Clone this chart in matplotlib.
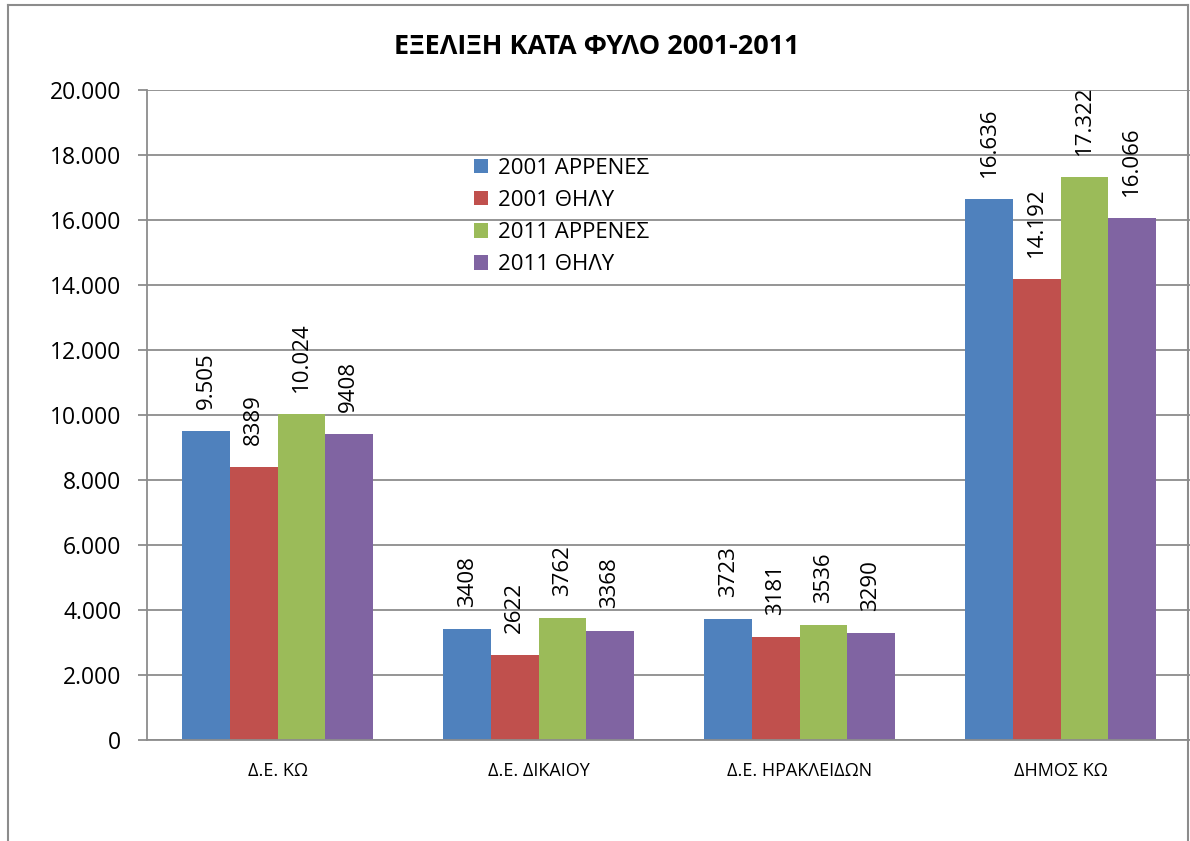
import numpy as np
import matplotlib
matplotlib.use('Agg')
import matplotlib.pyplot as plt
from matplotlib.lines import Line2D
from matplotlib.ticker import FuncFormatter

plt.rcParams['font.family'] = ['Open Sans', 'DejaVu Sans']

categories = ['Δ.Ε. ΚΩ', 'Δ.Ε. ΔΙΚΑΙΟΥ', 'Δ.Ε. ΗΡΑΚΛΕΙΔΩΝ', 'ΔΗΜΟΣ ΚΩ']
series_names = ['2001 ΑΡΡΕΝΕΣ', '2001 ΘΗΛΥ', '2011 ΑΡΡΕΝΕΣ', '2011 ΘΗΛΥ']
m2001 = [9505, 3408, 3723, 16636]
f2001 = [8389, 2622, 3181, 14192]
m2011 = [10024, 3762, 3536, 17322]
f2011 = [9408, 3368, 3290, 16066]
# labels exactly as printed on the chart (mixed formatting)
lab_m2001 = ['9.505', '3408', '3723', '16.636']
lab_f2001 = ['8389', '2622', '3181', '14.192']
lab_m2011 = ['10.024', '3762', '3536', '17.322']
lab_f2011 = ['9408', '3368', '3290', '16.066']
colors = ['#4F81BD', '#C0504D', '#9BBB59', '#8064A2']

values = [m2001, f2001, m2011, f2011]
labels = [lab_m2001, lab_f2001, lab_m2011, lab_f2011]

fig = plt.figure(figsize=(11.9, 8.41), dpi=100)
# outer chart border (bottom edge cut off like the screenshot)
fig.add_artist(Line2D([8/1190, 8/1190], [0, 1 - 5/841], transform=fig.transFigure, color='#8c8c8c', lw=1.5))
fig.add_artist(Line2D([8/1190, 1188/1190], [1 - 5/841, 1 - 5/841], transform=fig.transFigure, color='#8c8c8c', lw=1.5))
fig.add_artist(Line2D([1188/1190, 1188/1190], [0, 1 - 5/841], transform=fig.transFigure, color='#8c8c8c', lw=1.5))

ax = fig.add_axes([147/1190, 1 - 740/841, 1044/1190, 650/841])
x = np.arange(len(categories))
w = 0.182
for i in range(4):
    pos = x + (i - 1.5) * w
    ax.bar(pos, values[i], width=w, color=colors[i], label=series_names[i], zorder=2)
    for px, v, t in zip(pos, values[i], labels[i]):
        ax.text(px, v + 680, t, rotation=90, ha='center', va='bottom', fontsize=16)

ax.set_xlim(-0.5, 3.5)
ax.set_ylim(0, 20000)
ax.set_yticks(np.arange(0, 20001, 2000))
ax.yaxis.set_major_formatter(FuncFormatter(lambda v, p: '{:,.0f}'.format(v).replace(',', '.')))
ax.set_xticks(x)
ax.set_xticklabels(categories, fontsize=13)
ax.tick_params(axis='x', length=0, pad=16)
ax.tick_params(axis='y', labelsize=16.5, length=6.5, color='#8c8c8c', width=1.3, pad=12)
ax.grid(axis='y', color='#8c8c8c', lw=1.3, zorder=0)
for s in ['top', 'right']:
    ax.spines[s].set_visible(False)
ax.spines['left'].set_color('#8c8c8c')
ax.spines['left'].set_linewidth(1.3)
ax.spines['bottom'].set_color('#8c8c8c')
ax.spines['bottom'].set_linewidth(1.3)
ax.spines['bottom'].set_zorder(3)

fig.text(597/1190, 1 - 47/841, 'ΕΞΕΛΙΞΗ ΚΑΤΑ ΦΥΛΟ 2001-2011', ha='center', va='center',
         fontsize=19.5, fontweight='bold')

ax.legend(loc='upper left', bbox_to_anchor=((474 - 147) / 1044, (740 - 158) / 650), frameon=False,
          fontsize=16, handlelength=0.62, handleheight=0.62, handletextpad=0.45, labelspacing=0.5,
          borderaxespad=0, borderpad=0)

fig.savefig('out.png', dpi=100)
